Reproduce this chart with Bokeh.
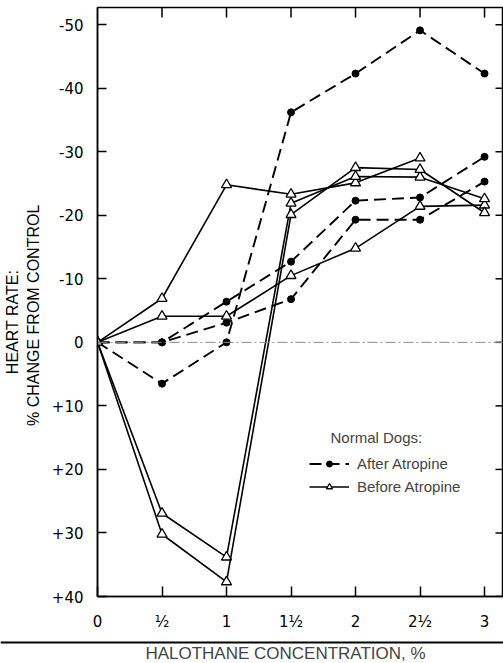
from math import pi
from bokeh.plotting import figure
from bokeh.layouts import column
from bokeh.models import (Range1d, FixedTicker, Span, Label, Legend,
                          LegendItem, BoxAnnotation)
from bokeh.embed import file_html
from bokeh.resources import INLINE

# ---- data ----
concentration = [0, 0.5, 1, 1.5, 2, 2.5, 3]
x_tick_labels = ["0", "½", "1", "1½", "2", "2½", "3"]
y_ticks = [-50, -40, -30, -20, -10, 0, 10, 20, 30, 40]
y_tick_labels = ["-50", "-40", "-30", "-20", "-10", "0", "+10", "+20", "+30", "+40"]

after_1 = [0, 6.5, 0, -36.2, -42.3, -49.1, -42.3]
after_2 = [0, 0, -6.4, -12.7, -22.3, -22.8, -29.2]
after_3 = [0, 0, -3.1, -6.8, -19.3, -19.3, -25.3]

before_1_x = [0, 0.5, 1, 1.5, 2, 2.5]
before_1 = [0, -6.9, -24.8, -23.3, -25.1, -29.0]
before_2 = [0, -4.1, -4.1, -10.5, -14.8, -21.4, -21.6]
before_3 = [0, 26.9, 33.8, -21.9, -26.1, -26.0, -22.6]
before_4 = [0, 30.2, 37.7, -20.1, -27.5, -27.2, -20.4]

FONT = "Liberation Sans"
TICK_FONT = "DejaVu Sans"
NB = "\u00a0"

X_END = 3.147
Y_TOP = -52.7
p = figure(width=503, height=640, output_backend="svg", toolbar_location=None,
           x_range=Range1d(0, X_END), y_range=Range1d(40, Y_TOP),
           min_border_left=97, min_border_right=0, min_border_top=7,
           min_border_bottom=44)
p.frame_align = False
p.outline_line_color = "black"
p.outline_line_width = 1.5
p.grid.visible = False

# left axis
ya = p.yaxis[0]
ya.ticker = FixedTicker(ticks=y_ticks)
ya.major_label_overrides = {t: l for t, l in zip(y_ticks, y_tick_labels)}
ya.major_tick_in = 9
ya.major_tick_out = 0
ya.minor_tick_line_color = None
ya.major_label_standoff = 14
ya.major_label_text_font = TICK_FONT
ya.major_label_text_font_size = "15px"
ya.major_label_text_color = "black"
ya.axis_line_width = 1.5
ya.major_tick_line_width = 1.5
ya.axis_label = "HEART RATE:" + NB * 9 + "\n% CHANGE FROM CONTROL" + NB * 6
ya.axis_label_standoff = 7
ya.axis_label_text_font = FONT
ya.axis_label_text_font_size = "16px"
ya.axis_label_text_font_style = "normal"
ya.axis_label_text_color = "black"

# bottom axis
xa = p.xaxis[0]
xa.ticker = FixedTicker(ticks=concentration)
xa.major_label_overrides = {t: l for t, l in zip(concentration, x_tick_labels)}
xa.major_tick_in = 10
xa.major_tick_out = 0
xa.minor_tick_line_color = None
xa.major_label_standoff = 16
xa.major_label_text_font = TICK_FONT
xa.major_label_text_font_size = "15px"
xa.major_label_text_color = "black"
xa.axis_line_width = 1.5
xa.major_tick_line_width = 1.5

# inward ticks on the top and right edges of the frame
p.scatter(concentration[1:], [Y_TOP] * len(concentration[1:]), marker="dash",
          angle=pi / 2, size=20, line_color="black", line_width=1.5)
p.scatter([X_END] * len(y_ticks), y_ticks, marker="dash", size=16,
          line_color="black", line_width=1.5)

# faint zero line
p.add_layout(Span(location=0, dimension="width", line_color="#888888",
                  line_width=1, line_dash="10 3 2 3"))

dash = "12 6"
after_lines = []
for ys in (after_1, after_2, after_3):
    l = p.line(concentration, ys, line_color="black", line_width=1.9, line_dash=dash)
    s = p.scatter(concentration, ys, marker="circle", size=7, fill_color="black",
                  line_color="black")
    after_lines.append((l, s))

before_lines = []
for xs, ys in ((before_1_x, before_1), (concentration, before_2),
               (concentration, before_3), (concentration, before_4)):
    l = p.line(xs, ys, line_color="black", line_width=1.6)
    s = p.scatter(xs, ys, marker="triangle", size=10, fill_color="white",
                  line_color="black", line_width=1.3)
    before_lines.append((l, s))

legend = Legend(items=[
    LegendItem(label="After Atropine", renderers=list(after_lines[0])),
    LegendItem(label="Before Atropine", renderers=list(before_lines[0])),
], location=(212, 101), padding=0, margin=0, spacing=6, glyph_width=40,
   glyph_height=15, label_height=15, label_standoff=8,
   label_text_font=FONT, label_text_font_size="15px",
   border_line_color=None, background_fill_alpha=0)
p.add_layout(legend)

p.add_layout(Label(x=233, y=159, x_units="screen", y_units="screen",
                   text="Normal Dogs:", text_font=FONT, text_font_size="15px",
                   text_baseline="middle", text_align="left"))

# ---- strip below: rule and x-axis title ----
p2 = figure(width=503, height=23, output_backend="svg", toolbar_location=None,
            x_range=Range1d(0, 1), y_range=Range1d(0, 1),
            min_border=0, min_border_left=0, min_border_right=0,
            min_border_top=0, min_border_bottom=0,
            x_axis_type=None, y_axis_type=None)
p2.frame_align = False
p2.outline_line_color = None
p2.grid.visible = False
p2.add_layout(BoxAnnotation(left=0, right=503, top=22, bottom=20,
                            left_units="screen", right_units="screen",
                            top_units="screen", bottom_units="screen",
                            fill_color="black", fill_alpha=1, line_color=None))
p2.add_layout(Label(x=285, y=10, x_units="screen", y_units="screen",
                    text="HALOTHANE CONCENTRATION, %", text_align="center",
                    text_baseline="middle", text_font=FONT, text_font_size="17px"))

layout = column(p, p2, spacing=0)
open("out.html", "w").write(file_html(layout, INLINE))
